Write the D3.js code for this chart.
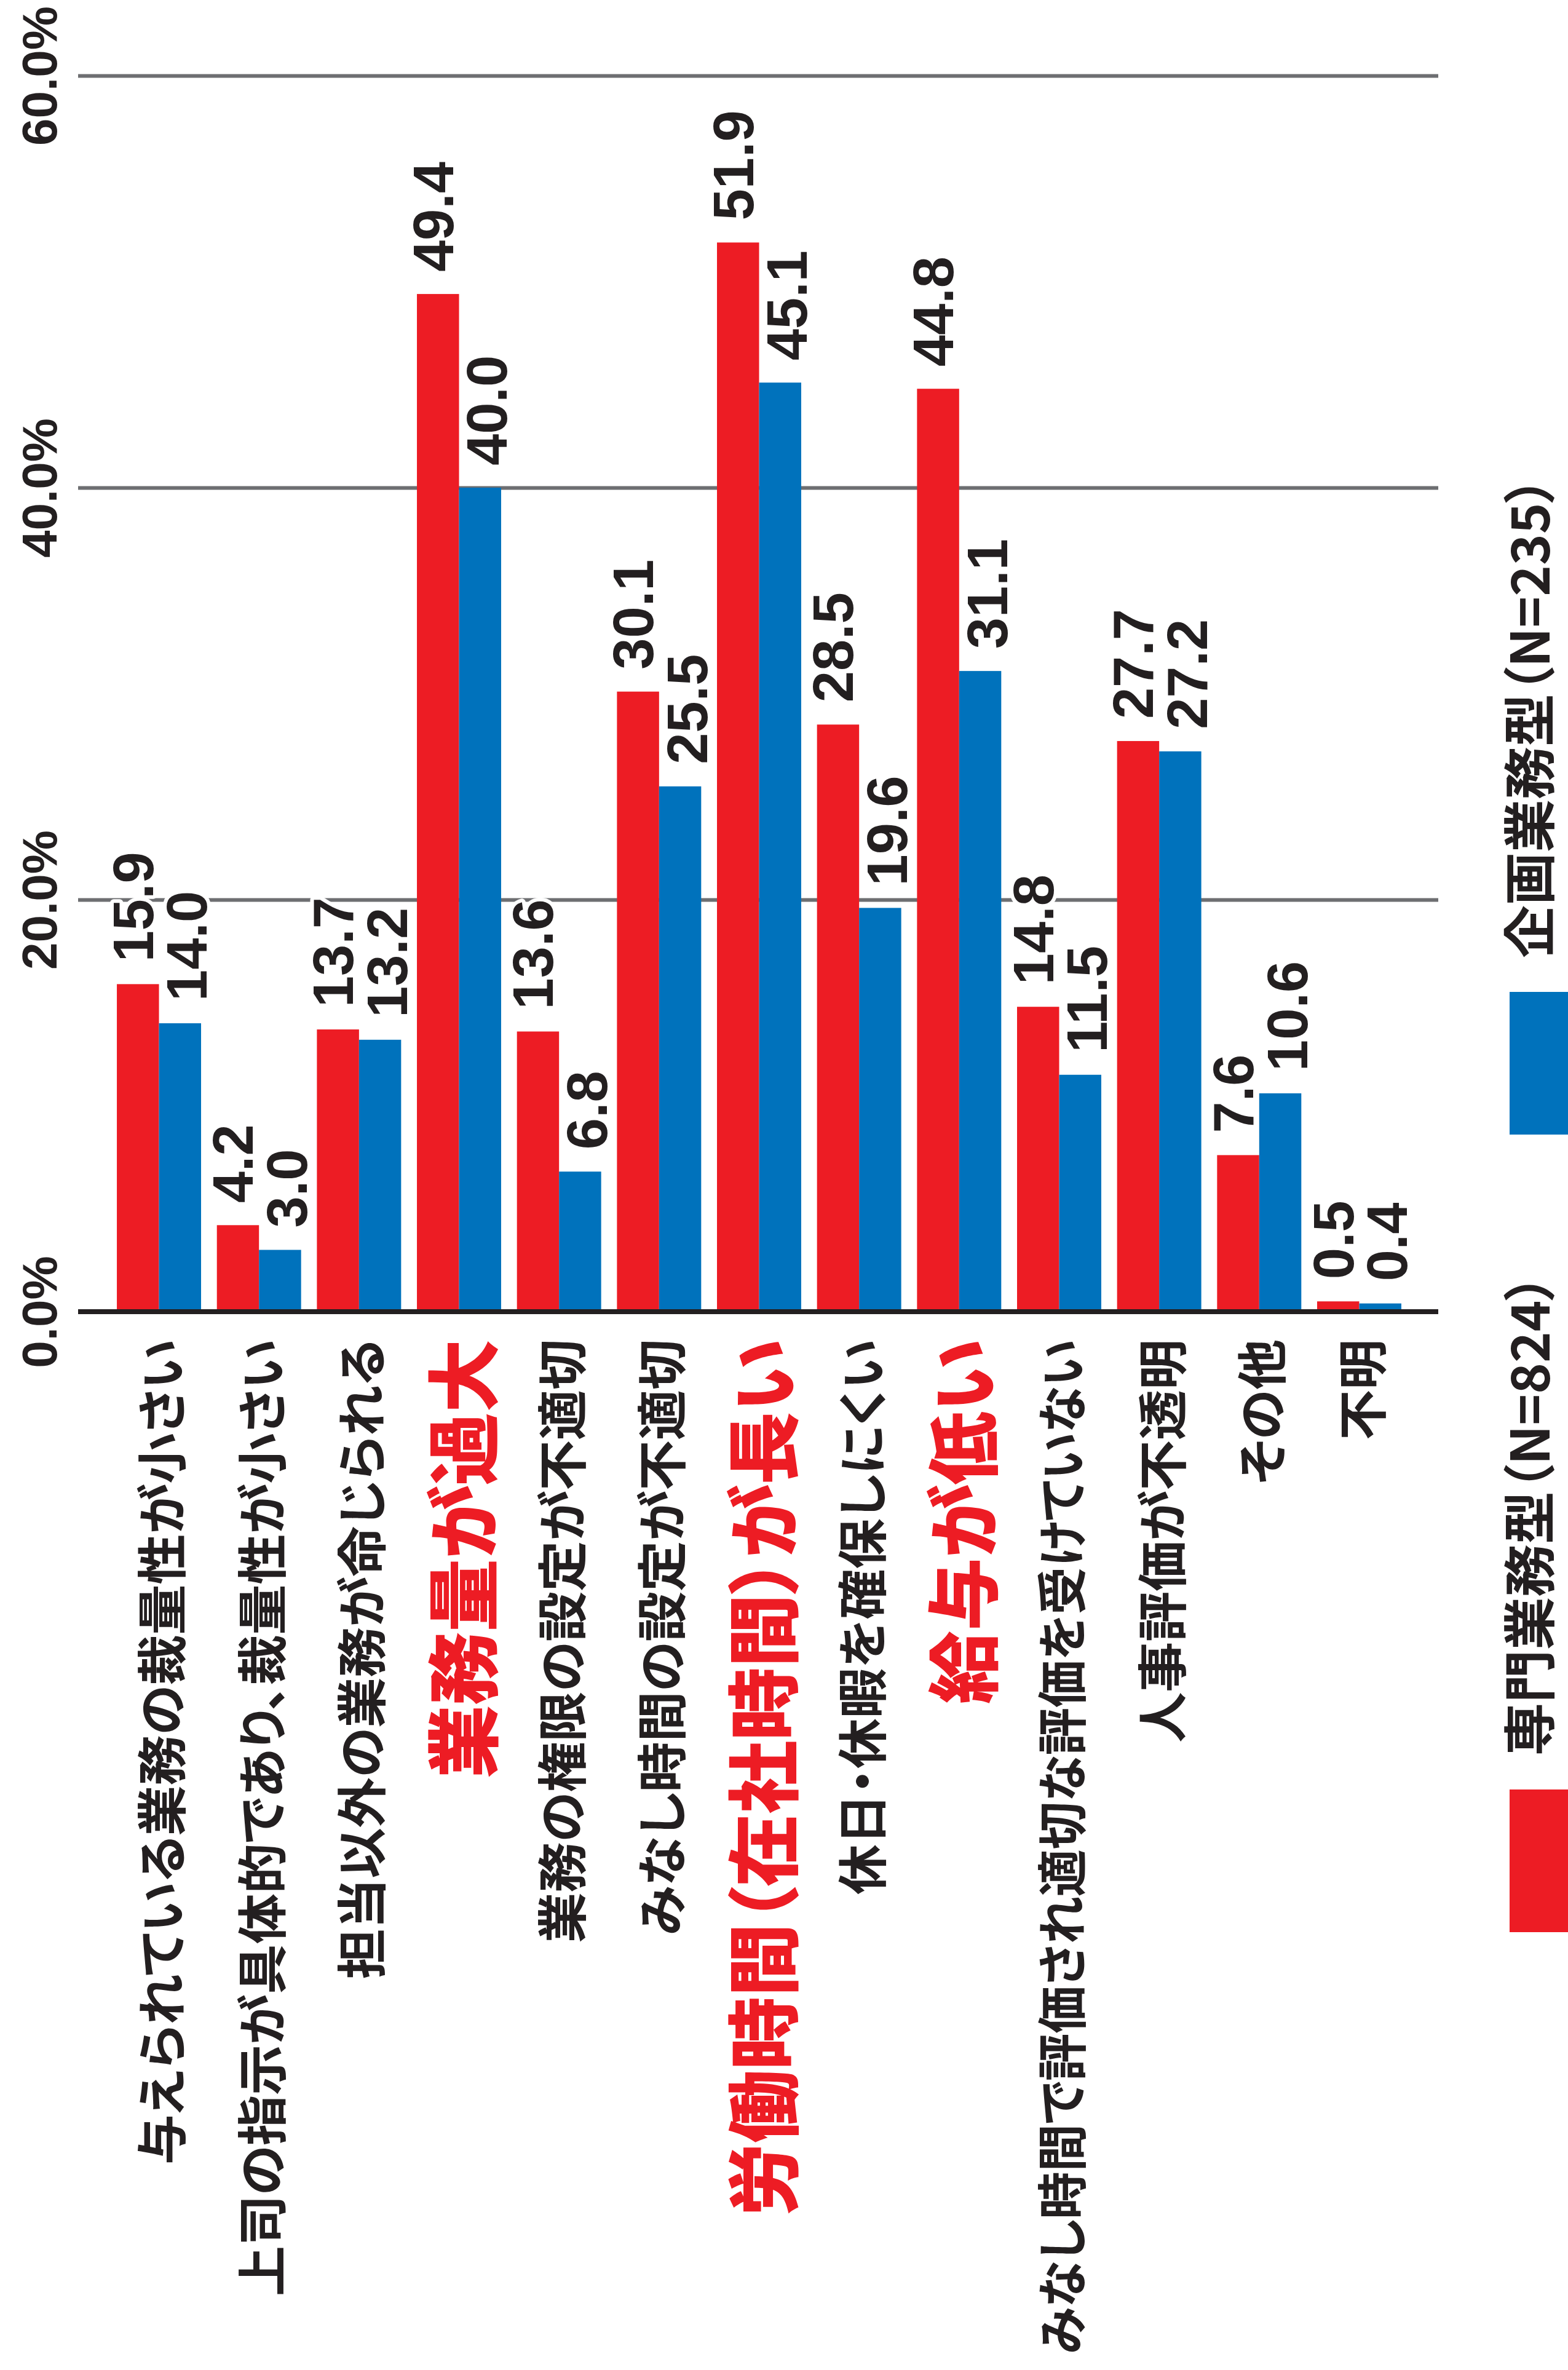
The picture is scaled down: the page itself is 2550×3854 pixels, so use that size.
<!DOCTYPE html>
<html>
<head>
<meta charset="utf-8">
<script src="https://cdn.jsdelivr.net/npm/d3@7"></script>
<style>
html,body{margin:0;padding:0;background:#fff;}
svg{display:block;}
</style>
</head>
<body>
<svg id="chart" width="2550" height="3854"></svg>
<script>
// ---------------- data ----------------
const categories = [
  "与えられている業務の裁量性が小さい",
  "上司の指示が具体的であり、裁量性が小さい",
  "担当以外の業務が命じられる",
  "業務量が過大",
  "業務の権限の設定が不適切",
  "みなし時間の設定が不適切",
  "労働時間（在社時間）が長い",
  "休日・休暇を確保しにくい",
  "給与が低い",
  "みなし時間で評価され適切な評価を受けていない",
  "人事評価が不透明",
  "その他",
  "不明"
];
const highlighted = ["業務量が過大", "労働時間（在社時間）が長い", "給与が低い"];
const seriesNames = ["専門業務型（N=824）", "企画業務型（N=235）"];
const senmonValues = [15.9, 4.2, 13.7, 49.4, 13.6, 30.1, 51.9, 28.5, 44.8, 14.8, 27.7, 7.6, 0.5];
const kikakuValues = [14.0, 3.0, 13.2, 40.0, 6.8, 25.5, 45.1, 19.6, 31.1, 11.5, 27.2, 10.6, 0.4];
const yTickValues = [0, 20, 40, 60];
const seriesColors = ["#ed1c24", "#0072bc"];

// ---------------- layout ----------------
const W = 2550, H = 3854;
const plotLeft = 127, plotRight = 2339, yZero = 2133, yTop = 123;
const ink = "#231f20";
const jpFont = "'Noto Sans CJK JP', 'Noto Sans CJK SC', sans-serif";
const numFont = "'Liberation Sans', Arial, Helvetica, sans-serif";

const svg = d3.select("#chart");
svg.append("rect").attr("width", W).attr("height", H).attr("fill", "#fff");

const x0 = d3.scaleBand().domain(categories)
  .range([177.2, 2291.8]).paddingInner(0.158).paddingOuter(0.079);
const x1 = d3.scaleBand().domain([0, 1]).range([0, x0.bandwidth()]);
const y = d3.scaleLinear().domain([0, 60]).range([yZero, yTop]);

const series = [senmonValues, kikakuValues];

// ---------------- grid + tick labels ----------------
const axis = d3.axisLeft(y)
  .tickValues(yTickValues)
  .tickSize(-(plotRight - plotLeft))
  .tickFormat(d => d.toFixed(1) + "%");

const gAxis = svg.append("g").attr("transform", `translate(${plotLeft},0)`).call(axis);
gAxis.select(".domain").remove();
gAxis.selectAll(".tick line")
  .attr("stroke", d => d === 0 ? "none" : "#6d6e71")
  .attr("stroke-width", 6);
gAxis.selectAll(".tick text")
  .attr("x", 0).attr("y", 0).attr("dy", null)
  .attr("text-anchor", "middle")
  .attr("transform", "translate(-35,0) rotate(-90)")
  .attr("fill", ink)
  .style("font-family", numFont)
  .style("font-weight", "bold")
  .style("font-size", "80px");

// ---------------- bars ----------------
const gBars = svg.append("g");
categories.forEach((c, i) => {
  series.forEach((vals, s) => {
    gBars.append("rect")
      .attr("x", x0(c) + x1(s))
      .attr("y", y(vals[i]))
      .attr("width", x1.bandwidth())
      .attr("height", y(0) - y(vals[i]))
      .attr("fill", seriesColors[s]);
  });
});

// zero line
svg.append("line")
  .attr("x1", plotLeft).attr("x2", plotRight)
  .attr("y1", y(0)).attr("y2", y(0))
  .attr("stroke", ink).attr("stroke-width", 8);

// ---------------- value labels ----------------
const gVals = svg.append("g");
categories.forEach((c, i) => {
  series.forEach((vals, s) => {
    const cx = x0(c) + x1(s) + x1.bandwidth() / 2 + (s === 0 ? 24.5 : 43.5);
    const cy = y(vals[i]) - 36;
    gVals.append("text")
      .attr("transform", `translate(${cx},${cy}) rotate(-90)`)
      .attr("text-anchor", "start")
      .attr("fill", ink)
      .attr("stroke", "#fff")
      .attr("stroke-width", 12)
      .attr("stroke-linejoin", "round")
      .style("paint-order", "stroke")
      .style("font-family", numFont)
      .style("font-weight", "bold")
      .style("font-size", "92px")
      .text(vals[i].toFixed(1));
  });
});

// ---------------- category labels ----------------
const gCats = svg.append("g");
const maxLabelLen = 1650;
categories.forEach(c => {
  const hi = highlighted.includes(c);
  const t = gCats.append("text")
    .attr("transform", `translate(${x0(c) + x0.bandwidth() / 2},2178) rotate(-90)`)
    .attr("text-anchor", "end")
    .attr("dominant-baseline", "central")
    .attr("fill", hi ? "#ed1c24" : ink)
    .style("font-family", jpFont)
    .style("font-weight", hi ? 900 : 700)
    .style("font-size", hi ? "119px" : "82px")
    .style("font-feature-settings", "'palt' 1")
    .text(c);
  const len = t.node().getComputedTextLength();
  if (len > maxLabelLen) {
    t.attr("textLength", maxLabelLen).attr("lengthAdjust", "spacingAndGlyphs");
  }
});

// ---------------- legend ----------------
const legendTops = [2910, 1613];
const gLeg = svg.append("g");
seriesNames.forEach((name, s) => {
  gLeg.append("rect")
    .attr("x", 2455).attr("y", legendTops[s])
    .attr("width", 95).attr("height", 232)
    .attr("fill", seriesColors[s]);
  gLeg.append("text")
    .attr("transform", `translate(2482,${legendTops[s] - 55}) rotate(-90)`)
    .attr("text-anchor", "start")
    .attr("dominant-baseline", "central")
    .attr("fill", ink)
    .style("font-family", jpFont)
    .style("font-weight", 700)
    .style("font-size", "86px")
    .style("font-feature-settings", "'palt' 1")
    .text(name);
});
</script>
</body>
</html>
